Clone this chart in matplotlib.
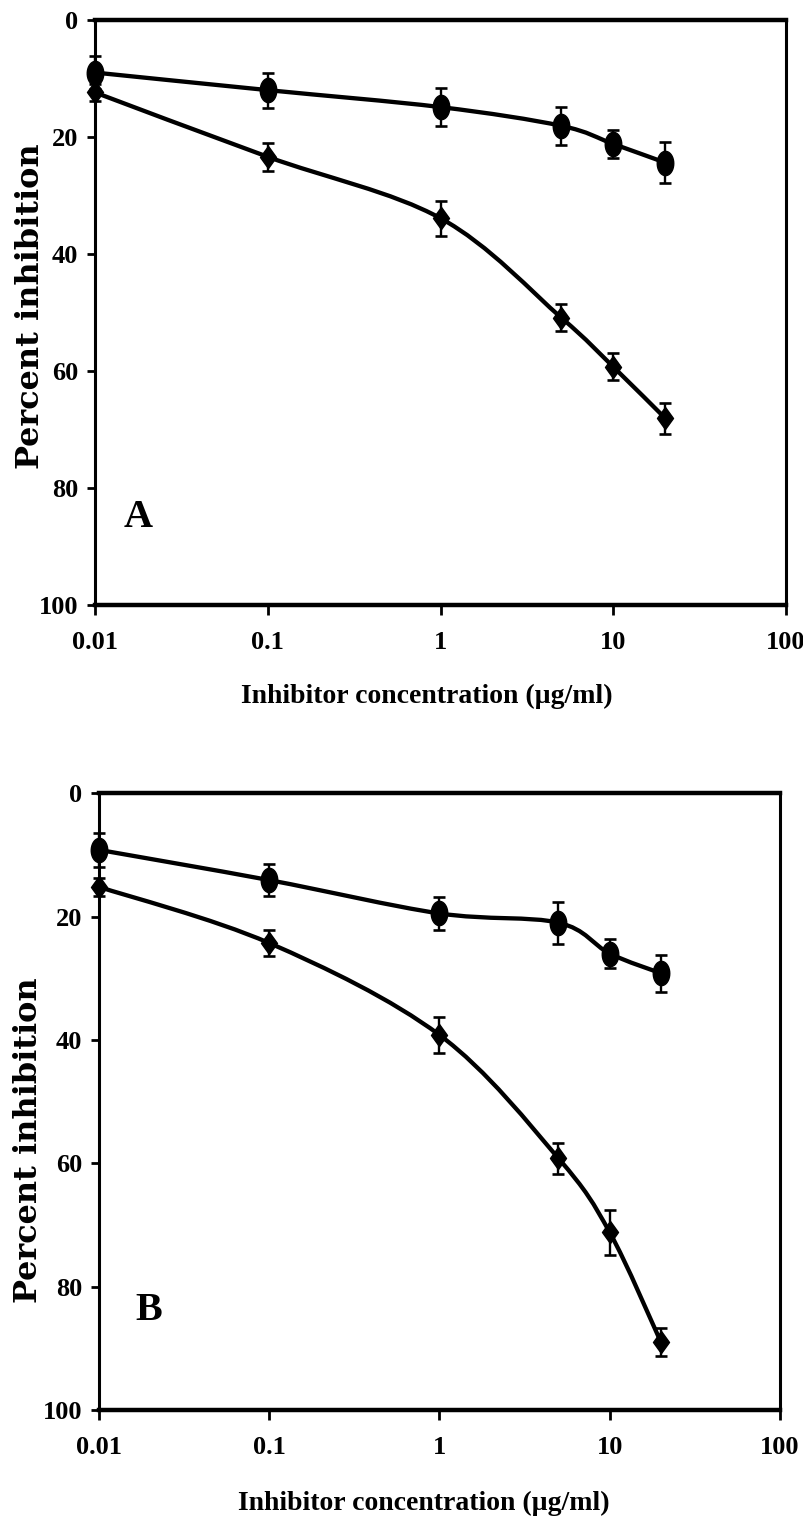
import numpy as np
import matplotlib.pyplot as plt
from matplotlib.path import Path
from matplotlib.patches import PathPatch

conc = [0.01, 0.1, 1, 5, 10, 20]
xticks = [0.01, 0.1, 1, 10, 100]
xticklabels = ["0.01", "0.1", "1", "10", "100"]
yticks = [0, 20, 40, 60, 80, 100]

a_circle = [9.0, 12.0, 14.9, 18.1, 21.2, 24.4]
a_circle_err = [2.8, 3.0, 3.3, 3.3, 2.4, 3.5]
a_diamond = [12.4, 23.4, 33.9, 50.9, 59.3, 68.1]
a_diamond_err = [1.5, 2.4, 3.0, 2.3, 2.3, 2.6]

b_circle = [9.2, 14.1, 19.5, 21.0, 26.0, 29.2]
b_circle_err = [2.8, 2.6, 2.7, 3.4, 2.4, 3.0]
b_diamond = [15.2, 24.3, 39.2, 59.2, 71.2, 89.0]
b_diamond_err = [1.5, 2.1, 2.9, 2.5, 3.6, 2.3]

serif = "Liberation Serif"

# marker shapes: tall ellipse and tall diamond
t = np.linspace(0, 2 * np.pi, 40)
ellipse = Path(np.column_stack([0.68 * np.cos(t), np.sin(t)]), closed=True)
diamond = Path([(0, 1), (0.72, 0), (0, -1), (-0.72, 0), (0, 1)], closed=True)


def smooth_path(x, y):
    # Catmull-Rom style smoothing (like a spreadsheet's smoothed line), drawn as bezier
    lx = np.log10(x)
    p = np.column_stack([lx, y])
    n = len(p)
    verts = [p[0]]
    codes = [Path.MOVETO]
    for i in range(n - 1):
        p0 = p[max(i - 1, 0)]
        p1 = p[i]
        p2 = p[i + 1]
        p3 = p[min(i + 2, n - 1)]
        c1 = p1 + (p2 - p0) / 6
        c2 = p2 - (p3 - p1) / 6
        verts += [c1, c2, p2]
        codes += [Path.CURVE4] * 3
    verts = np.array(verts)
    verts[:, 0] = 10 ** verts[:, 0]
    return Path(verts, codes)


def draw_series(ax, y, err, marker, ms):
    ax.add_patch(PathPatch(smooth_path(conc, y), fill=False, lw=3.1,
                           color="black", transform=ax.transData, zorder=2))
    ax.errorbar(conc, y, yerr=err, fmt="none", ecolor="black", elinewidth=1.7,
                capsize=4.5, capthick=1.9, zorder=3, clip_on=False)
    ax.plot(conc, y, linestyle="none", marker=marker, markersize=ms,
            color="black", zorder=4, clip_on=False)


def setup(ax, letter, lx, ly):
    ax.set_xscale("log")
    ax.set_xlim(0.01, 100)
    ax.set_ylim(100, 0)
    ax.set_xticks(xticks)
    ax.set_xticklabels(xticklabels)
    ax.minorticks_off()
    ax.set_yticks(yticks)
    ax.set_yticklabels([str(v) for v in yticks])
    for lab in ax.get_xticklabels() + ax.get_yticklabels():
        lab.set_fontfamily(serif)
        lab.set_fontsize(19)
        lab.set_fontweight("bold")
    ax.tick_params(axis="x", direction="out", length=7, width=2, pad=12)
    ax.tick_params(axis="y", direction="out", length=6, width=2, pad=6)
    ax.spines["top"].set_linewidth(3.2)
    ax.spines["bottom"].set_linewidth(3.2)
    ax.spines["left"].set_linewidth(2.2)
    ax.spines["right"].set_linewidth(2.2)
    ax.text(lx, ly, letter, transform=ax.transAxes, fontsize=29,
            fontweight="bold", family=serif, ha="center", va="center")


fig = plt.figure(figsize=(8.04, 15.32), dpi=100)
axA = fig.add_axes([0.1182, 0.6051, 0.8595, 0.3819])
axB = fig.add_axes([0.1231, 0.0796, 0.8470, 0.4027])

setup(axA, "A", 0.062, 0.149)
setup(axB, "B", 0.073, 0.162)

draw_series(axA, a_circle, a_circle_err, ellipse, 17.5)
draw_series(axA, a_diamond, a_diamond_err, diamond, 16)
draw_series(axB, b_circle, b_circle_err, ellipse, 17.5)
draw_series(axB, b_diamond, b_diamond_err, diamond, 16)

fig.text(427 / 804, 1 - 696 / 1532, "Inhibitor concentration (\u00b5g/ml)",
         family=serif, fontsize=20, fontweight="bold", ha="center", va="center")
fig.text(424 / 804, 1 - 1503 / 1532, "Inhibitor concentration (\u00b5g/ml)",
         family=serif, fontsize=20, fontweight="bold", ha="center", va="center")
fig.text(31 / 804, 1 - 306 / 1532, "Percent inhibition", family="DejaVu Serif",
         fontsize=23, fontweight="bold", rotation=90, ha="center", va="center")
fig.text(29 / 804, 1 - 1140 / 1532, "Percent inhibition", family="DejaVu Serif",
         fontsize=23, fontweight="bold", rotation=90, ha="center", va="center")

fig.savefig("out.png", dpi=100)
